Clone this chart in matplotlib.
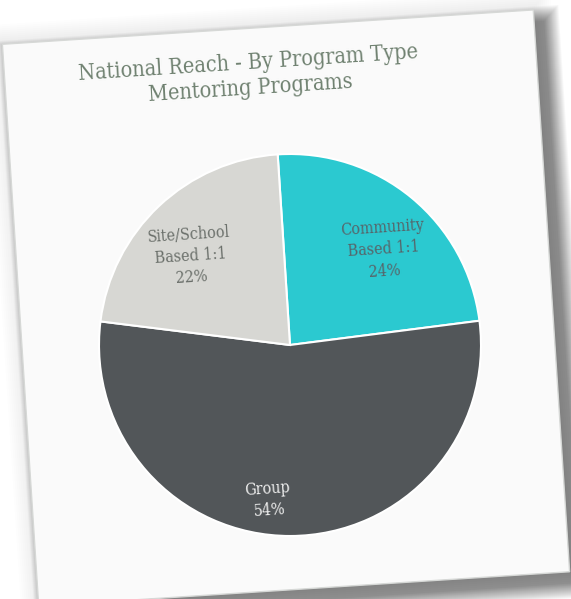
import numpy as np
import matplotlib.pyplot as plt
from matplotlib.patches import Polygon

# data
categories = ["Community\nBased 1:1", "Group", "Site/School\nBased 1:1"]
shares = [24, 54, 22]
colors = ["#2bc9d0", "#525659", "#d7d7d3"]
label_colors = ["#56656a", "#f0f0f0", "#6a6f6a"]
title_lines = ["National Reach - By Program Type", "Mentoring Programs"]

W, H = 571, 599
tilt = 3.7  # the card is photographed slightly rotated
card_center = (286, H - 308)
card_w, card_h = 532, 563


def card_corners(cx, cy, w, h, ang):
    t = np.radians(ang)
    rot = np.array([[np.cos(t), -np.sin(t)], [np.sin(t), np.cos(t)]])
    pts = np.array([[-w / 2, h / 2], [w / 2, h / 2], [w / 2, -h / 2], [-w / 2, -h / 2]])
    return pts @ rot.T + np.array([cx, cy])


fig = plt.figure(figsize=(W / 100, H / 100), dpi=100)
fig.patch.set_facecolor("white")
ax = fig.add_axes([0, 0, 1, 1])

# soft drop shadow, heavier to the right and below
for i in range(16):
    grow = 2 * i
    pts = card_corners(card_center[0] + 11, card_center[1] - 11, card_w + grow, card_h + grow, tilt)
    ax.add_patch(Polygon(pts, closed=True, facecolor="black", edgecolor="none", alpha=0.032))
for i in range(10):
    grow = 4 * i
    pts = card_corners(card_center[0], card_center[1] + 2, card_w + grow, card_h + grow, tilt)
    ax.add_patch(Polygon(pts, closed=True, facecolor="black", edgecolor="none", alpha=0.006))

ax.add_patch(Polygon(card_corners(*card_center, card_w, card_h, tilt), closed=True,
                     facecolor="#fafafa", edgecolor="#d6d8d6", linewidth=1.0))

# pie
pie_center = (290, H - 345)
radius = 191
wedges, _ = ax.pie(shares, colors=colors, center=pie_center, radius=radius,
                   startangle=90 + tilt, counterclock=False,
                   wedgeprops=dict(edgecolor="white", linewidth=1.5), frame=True)
ax.set_xlim(0, W)
ax.set_ylim(0, H)
ax.set_aspect("equal")
ax.axis("off")

label_dist = [0.70, 0.82, 0.70]
label_shift = [-5, -8, 5]
for w, name, val, col, d, s in zip(wedges, categories, shares, label_colors, label_dist, label_shift):
    mid = np.radians((w.theta1 + w.theta2) / 2 + s)
    x = pie_center[0] + d * radius * np.cos(mid)
    y = pie_center[1] + d * radius * np.sin(mid)
    ax.text(x, y, f"{name}\n{val}%", ha="center", va="center", color=col,
            fontsize=11.5, family="DejaVu Serif", fontstretch="condensed",
            rotation=tilt, rotation_mode="anchor", linespacing=1.35)

# title
ax.text(248, H - 63, title_lines[0], ha="center", va="center", color="#6f8170",
        fontsize=15.5, family="DejaVu Serif", fontstretch="condensed",
        rotation=tilt, rotation_mode="anchor")
ax.text(250, H - 88, title_lines[1], ha="center", va="center", color="#6f8170",
        fontsize=15.5, family="DejaVu Serif", fontstretch="condensed",
        rotation=tilt, rotation_mode="anchor")

fig.savefig("out.png", dpi=100, facecolor=fig.get_facecolor())
